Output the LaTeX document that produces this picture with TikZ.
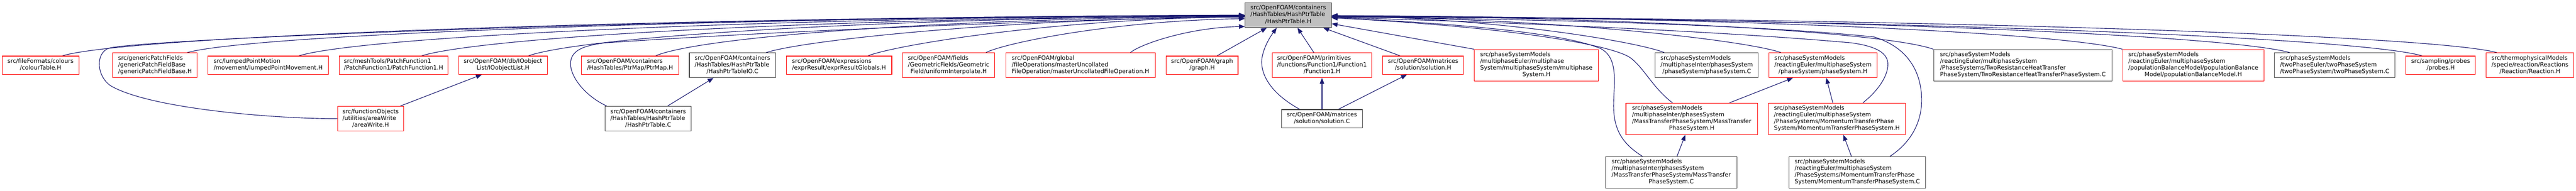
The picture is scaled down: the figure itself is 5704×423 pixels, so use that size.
\documentclass[tikz,border=0pt]{standalone}
\usepackage{fontspec}
\setmainfont{DejaVu Sans}
\usetikzlibrary{arrows.meta}
\definecolor{edgeblue}{HTML}{191970}
\definecolor{boxgray}{HTML}{BFBFBF}
\definecolor{darkborder}{HTML}{404040}
\newcommand\dxL[1]{\begin{tabular}{@{}l@{}}#1\end{tabular}}
\newcommand\dxC[1]{\multicolumn{1}{@{}c@{}}{#1}}
\pgfdeclarelayer{back}
\pgfdeclarelayer{bg}
\pgfsetlayers{back,bg,main}
\begin{document}
\begin{tikzpicture}[x=1pt,y=-1pt,
  box/.style={draw, line width=1.3pt, inner sep=0pt, fill=white, text=black,
    font=\fontsize{12.9}{14.9}\selectfont},
  redbox/.style={box, draw=red},
  blkbox/.style={box, draw=darkborder},
  rootbox/.style={box, draw=darkborder, fill=boxgray},
  two/.style={minimum height=40.4pt},
  three/.style={minimum height=55pt},
  four/.style={minimum height=69.6pt},
  edge/.style={draw=edgeblue, line width=1.3pt, -{Triangle[length=13pt,width=10pt]}}
]
\useasboundingbox (0,0) rectangle (5704,423);
\begin{pgfonlayer}{back}
\fill[white] (0,0) rectangle (5704,423);
\end{pgfonlayer}

% root
\node[rootbox, three, minimum width=191pt] (root) at (2852.5,33.5)
  {\dxL{src/OpenFOAM/containers\\/HashTables/HashPtrTable\\\dxC{/HashPtrTable.H}}};

% first row
\node[redbox, two, minimum width=169.7pt] (colourTable) at (89.8,144.5)
  {\dxL{src/fileFormats/colours\\\dxC{/colourTable.H}}};
\node[redbox, three, minimum width=187pt] (gpfb) at (343.2,144.5)
  {\dxL{src/genericPatchFields\\/genericPatchFieldBase\\\dxC{/genericPatchFieldBase.H}}};
\node[redbox, two, minimum width=267pt] (lumped) at (593.8,144.5)
  {\dxL{src/lumpedPointMotion\\\dxC{/movement/lumpedPointMovement.H}}};
\node[redbox, two, minimum width=240.4pt] (pf1) at (871.5,144.5)
  {\dxL{src/meshTools/PatchFunction1\\\dxC{/PatchFunction1/PatchFunction1.H}}};
\node[redbox, two, minimum width=196.3pt] (ioobj) at (1113.8,144.5)
  {\dxL{src/OpenFOAM/db/IOobject\\\dxC{List/IOobjectList.H}}};
\node[redbox, two, minimum width=215pt] (ptrmap) at (1395.2,144.5)
  {\dxL{src/OpenFOAM/containers\\\dxC{/HashTables/PtrMap/PtrMap.H}}};
\node[blkbox, three, minimum width=191pt] (hptIO) at (1621.8,144.5)
  {\dxL{src/OpenFOAM/containers\\/HashTables/HashPtrTable\\\dxC{/HashPtrTableIO.C}}};
\node[redbox, two, minimum width=233.7pt] (expr) at (1857.8,144.5)
  {\dxL{src/OpenFOAM/expressions\\\dxC{/exprResult/exprResultGlobals.H}}};
\node[redbox, three, minimum width=204.4pt] (unif) at (2100.5,144.5)
  {\dxL{src/OpenFOAM/fields\\/GeometricFields/Geometric\\\dxC{Field/uniformInterpolate.H}}};
\node[redbox, three, minimum width=331pt] (master) at (2392.5,144.5)
  {\dxL{src/OpenFOAM/global\\/fileOperations/masterUncollated\\\dxC{FileOperation/masterUncollatedFileOperation.H}}};
\node[redbox, two, minimum width=159pt] (graph) at (2661.8,144.5)
  {\dxL{src/OpenFOAM/graph\\\dxC{/graph.H}}};
\node[redbox, three, minimum width=219.7pt] (func1) at (2927.2,144.5)
  {\dxL{src/OpenFOAM/primitives\\/functions/Function1/Function1\\\dxC{/Function1.H}}};
\node[redbox, two, minimum width=179pt] (solH) at (3151.2,144.5)
  {\dxL{src/OpenFOAM/matrices\\\dxC{/solution/solution.H}}};
\node[redbox, four, minimum width=274.6pt] (mpsH) at (3402,144.5)
  {\dxL{src/phaseSystemModels\\/multiphaseEuler/multiphase\\System/multiphaseSystem/multiphase\\\dxC{System.H}}};
\node[blkbox, three, minimum width=228.3pt] (psC) at (3779.2,144.5)
  {\dxL{src/phaseSystemModels\\/multiphaseInter/phasesSystem\\\dxC{/phaseSystem/phaseSystem.C}}};
\node[redbox, three, minimum width=239pt] (psH) at (4036.5,144.5)
  {\dxL{src/phaseSystemModels\\/reactingEuler/multiphaseSystem\\\dxC{/phaseSystem/phaseSystem.H}}};
\node[blkbox, four, minimum width=395pt] (twoRes) at (4479.2,144.5)
  {\dxL{src/phaseSystemModels\\/reactingEuler/multiphaseSystem\\/PhaseSystems/TwoResistanceHeatTransfer\\\dxC{PhaseSystem/TwoResistanceHeatTransferPhaseSystem.C}}};
\node[redbox, four, minimum width=312.4pt] (popBal) at (4856.5,144.5)
  {\dxL{src/phaseSystemModels\\/reactingEuler/multiphaseSystem\\/populationBalanceModel/populationBalance\\\dxC{Model/populationBalanceModel.H}}};
\node[blkbox, three, minimum width=267pt] (twoPh) at (5169.8,144.5)
  {\dxL{src/phaseSystemModels\\/twoPhaseEuler/twoPhaseSystem\\\dxC{/twoPhaseSystem/twoPhaseSystem.C}}};
\node[redbox, two, minimum width=154pt] (probes) at (5404.3,144.5)
  {\dxL{src/sampling/probes\\\dxC{/probes.H}}};
\node[redbox, three, minimum width=194pt] (reaction) at (5602,144.5)
  {\dxL{src/thermophysicalModels\\/specie/reaction/Reactions\\\dxC{/Reaction/Reaction.H}}};

% second row
\node[redbox, three, minimum width=146.7pt] (areaWrite) at (820.7,263)
  {\dxL{src/functionObjects\\/utilities/areaWrite\\\dxC{/areaWrite.H}}};
\node[blkbox, three, minimum width=190.7pt] (hptC) at (1435.3,263)
  {\dxL{src/OpenFOAM/containers\\/HashTables/HashPtrTable\\\dxC{/HashPtrTable.C}}};
\node[blkbox, two, minimum width=179pt] (solC) at (2927.2,263.2)
  {\dxL{src/OpenFOAM/matrices\\\dxC{/solution/solution.C}}};
\node[redbox, four, minimum width=291pt] (mtH) at (3745.8,263.2)
  {\dxL{src/phaseSystemModels\\/multiphaseInter/phasesSystem\\/MassTransferPhaseSystem/MassTransfer\\\dxC{PhaseSystem.H}}};
\node[redbox, four, minimum width=304pt] (momH) at (4067.3,263.2)
  {\dxL{src/phaseSystemModels\\/reactingEuler/multiphaseSystem\\/PhaseSystems/MomentumTransferPhase\\\dxC{System/MomentumTransferPhaseSystem.H}}};

% third row
\node[blkbox, four, minimum width=291pt] (mtC) at (3700.5,381.8)
  {\dxL{src/phaseSystemModels\\/multiphaseInter/phasesSystem\\/MassTransferPhaseSystem/MassTransfer\\\dxC{PhaseSystem.C}}};
\node[blkbox, four, minimum width=303pt] (momC) at (4112.5,381.8)
  {\dxL{src/phaseSystemModels\\/reactingEuler/multiphaseSystem\\/PhaseSystems/MomentumTransferPhase\\\dxC{System/MomentumTransferPhaseSystem.C}}};

\begin{pgfonlayer}{bg}
% left-side edges into root
\draw[edge] ([xshift=48.2pt]colourTable.north) .. controls (288,79.3) and (1447,38.5) .. (root.west);
\draw[edge] ([xshift=71.8pt]gpfb.north) .. controls (565,76) and (1586,38.5) .. ([yshift=-1pt]root.west);
\draw[edge] ([xshift=67.9pt]lumped.north) .. controls (811.7,79.3) and (1709,38.5) .. ([yshift=-1pt]root.west);
\draw[edge] ([xshift=61.8pt]pf1.north) .. controls (1079,80.3) and (1845,39.5) .. ([yshift=-2pt]root.west);
\draw[edge] ([xshift=56.2pt]ioobj.north) .. controls (1297,80.3) and (1963,39.5) .. ([yshift=-2pt]root.west);
\draw[edge] ([xshift=56.5pt]ptrmap.north) .. controls (1556,80.3) and (2104,40.5) .. ([yshift=-3pt]root.west);
\draw[edge] ([xshift=74.9pt]hptIO.north) .. controls (1782,89) and (2227,41.5) .. ([yshift=-4pt]root.west);
\draw[edge] ([xshift=63.9pt]expr.north) .. controls (1989,98.3) and (2339,41.5) .. ([yshift=-4pt]root.west);
\draw[edge] ([xshift=82.8pt]unif.north) .. controls (2229,94) and (2470,45.5) .. ([yshift=-8pt]root.west);
\draw[edge] ([xshift=110.8pt]master.north) .. controls (2523,99) and (2630,61) .. ([yshift=3pt]root.south west);
\draw[edge] ([xshift=33pt]graph.north) -- ([xshift=-47.5pt]root.south);
\draw[edge] ([xshift=-18pt]func1.north) -- ([xshift=20.5pt]root.south);
\draw[edge] ([xshift=-51pt]solH.north) -- ([xshift=77.5pt]root.south);
\draw[edge] (mpsH.north west) -- ([yshift=-19pt]root.east);
% right-side edges into root
\draw[edge] ([xshift=-94.2pt]psC.north) .. controls (3626,93) and (3316,39.5) .. ([yshift=-2pt]root.east);
\draw[edge] ([xshift=-93.2pt]psH.north) .. controls (3863,89) and (3446,40.5) .. ([yshift=-3pt]root.east);
\draw[edge] (twoRes.north west) .. controls (4175,71.7) and (3615,38.5) .. ([yshift=-1pt]root.east);
\draw[edge] (popBal.north west) .. controls (4560,71.7) and (3824,38.5) .. ([yshift=-1pt]root.east);
\draw[edge] ([xshift=-99.8pt]twoPh.north) .. controls (4920,76) and (4009,39.5) .. ([yshift=-2pt]root.east);
\draw[edge] ([xshift=-41pt]probes.north) .. controls (5213,81.3) and (4156,41.5) .. ([yshift=-4pt]root.east);
\draw[edge] ([xshift=-73.7pt]reaction.north) .. controls (5378,77) and (4238,40.5) .. ([yshift=-3pt]root.east);
% lower rows into root
\draw[edge] (areaWrite.west) .. controls (600,263) and (330,240) .. (245,190)
  .. controls (215,170) and (210,120) .. (240,107)
  .. controls (300,88) and (1450,38) .. (root.west);
\draw[edge] ([xshift=-92pt]hptC.north) .. controls (1290,210) and (1255,160) .. (1265,130)
  .. controls (1272,108) and (1300,100) .. (1340,95)
  .. controls (1700,70) and (2300,45) .. ([yshift=-3pt]root.west);
\draw[edge] ([xshift=-49pt]solC.north) .. controls (2810,205) and (2788,160) .. (2795,125)
  .. controls (2800,100) and (2815,78) .. ([xshift=-25.5pt]root.south);
\draw[edge] ([xshift=-42.5pt]mtH.north) .. controls (3660,195) and (3640,150) .. (3610,128)
  .. controls (3570,100) and (3350,60) .. ([yshift=-6pt]root.east);
\draw[edge] ([xshift=-63.8pt]mtC.north) .. controls (3595,320) and (3573,290) .. (3573,235)
  .. controls (3573,185) and (3585,130) .. (3545,108)
  .. controls (3480,80) and (3300,55) .. ([yshift=-6pt]root.east);
\draw[edge] ([xshift=57.7pt]momH.north) .. controls (4160,200) and (4183,165) .. (4180,138)
  .. controls (4177,115) and (4150,102) .. (4100,95)
  .. controls (3800,68) and (3300,48) .. ([yshift=-5pt]root.east);
\draw[edge] ([xshift=72.5pt]momC.north) .. controls (4228,318) and (4255,275) .. (4255,222)
  .. controls (4255,160) and (4225,105) .. (4150,82)
  .. controls (3900,55) and (3400,42) .. ([yshift=-4pt]root.east);
% short edges
\draw[edge] ([xshift=66pt]areaWrite.north) -- ([xshift=-47pt]ioobj.south);
\draw[edge] ([xshift=43pt]hptC.north) -- ([xshift=-41.8pt]hptIO.south);
\draw[edge] (solC.north) -- (func1.south);
\draw[edge] ([xshift=36pt]solC.north) -- ([xshift=-36pt]solH.south);
\draw[edge] ([xshift=12.8pt]mtC.north) -- ([xshift=-14pt]mtH.south);
\draw[edge] ([xshift=84pt]mtH.north) -- ([xshift=-66.5pt]psH.south);
\draw[edge] ([xshift=-9pt]momH.north) -- ([xshift=7.5pt]psH.south);
\draw[edge] ([xshift=-13pt]momC.north) -- ([xshift=14.4pt]momH.south);
\end{pgfonlayer}
\end{tikzpicture}
\end{document}
